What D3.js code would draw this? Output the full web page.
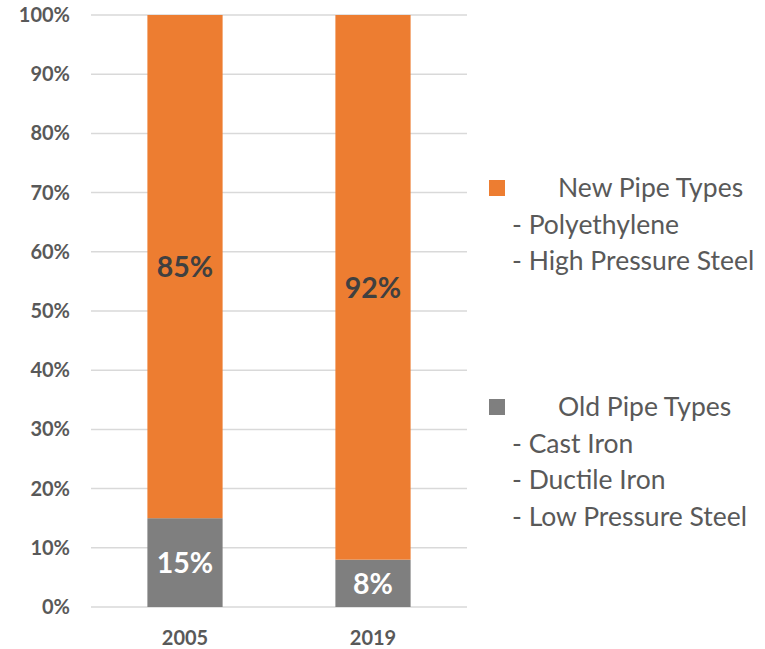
<!DOCTYPE html>
<html>
<head>
<meta charset="utf-8">
<script src="https://cdn.jsdelivr.net/npm/d3@7"></script>
<style>
  body { margin: 0; background: #fff; }
  svg text { font-family: Lato, "Open Sans", sans-serif; }
</style>
</head>
<body>
<div id="chart"></div>
<script>
// chart data
const years = ["2005", "2019"];
const oldShare = [15, 8];
const newShare = [85, 92];
const yTicks = [0, 10, 20, 30, 40, 50, 60, 70, 80, 90, 100];
const legendNew = ["New Pipe Types", "- Polyethylene", "- High Pressure Steel"];
const legendOld = ["Old Pipe Types", "- Cast Iron", "- Ductile Iron", "- Low Pressure Steel"];

const width = 765, height = 649;
const margin = {top: 15, left: 91, right: 298, bottom: 42};
const orange = "#ED7D31", gray = "#7F7F7F", textGray = "#595959";

const svg = d3.select("#chart")
    .append("svg")
    .attr("width", width)
    .attr("height", height);

const x = d3.scaleBand()
    .domain(years)
    .range([margin.left, width - margin.right])
    .padding(0);

const y = d3.scaleLinear()
    .domain([0, 100])
    .range([height - margin.bottom, margin.top]);

const barW = x.bandwidth() * 0.4;

// gridlines
svg.append("g")
    .selectAll("line")
    .data(yTicks)
    .join("line")
    .attr("x1", margin.left)
    .attr("x2", width - margin.right)
    .attr("y1", d => y(d))
    .attr("y2", d => y(d))
    .attr("stroke", "#D9D9D9")
    .attr("stroke-width", 1.5);

// y axis labels
const yAxis = svg.append("g")
    .attr("transform", `translate(${margin.left},0)`)
    .call(d3.axisLeft(y).tickValues(yTicks).tickFormat(d => d + "%").tickSize(0).tickPadding(21));
yAxis.select(".domain").remove();
yAxis.selectAll("text")
    .attr("fill", textGray)
    .attr("font-size", "20px")
    .attr("font-weight", "bold")
    .style("font-family", "Lato, sans-serif");

// x axis labels
const xAxis = svg.append("g")
    .attr("transform", `translate(0,${height - margin.bottom})`)
    .call(d3.axisBottom(x).tickSize(0).tickPadding(24));
xAxis.select(".domain").remove();
xAxis.selectAll("text")
    .attr("fill", textGray)
    .attr("font-size", "20px")
    .attr("font-weight", "bold")
    .style("font-family", "Lato, sans-serif");

const rows = years.map((yr, i) => ({year: yr, old: oldShare[i], fresh: newShare[i]}));

// old pipe segment
svg.append("g")
    .selectAll("rect")
    .data(rows)
    .join("rect")
    .attr("x", d => x(d.year) + (x.bandwidth() - barW) / 2)
    .attr("width", barW)
    .attr("y", d => y(d.old))
    .attr("height", d => y(0) - y(d.old))
    .attr("fill", gray);

// new pipe segment
svg.append("g")
    .selectAll("rect")
    .data(rows)
    .join("rect")
    .attr("x", d => x(d.year) + (x.bandwidth() - barW) / 2)
    .attr("width", barW)
    .attr("y", d => y(d.old + d.fresh))
    .attr("height", d => y(d.old) - y(d.old + d.fresh))
    .attr("fill", orange);

// value labels
svg.append("g")
    .selectAll("text")
    .data(rows)
    .join("text")
    .attr("x", d => x(d.year) + x.bandwidth() / 2)
    .attr("y", d => y(d.old / 2))
    .attr("dy", "0.36em")
    .attr("text-anchor", "middle")
    .attr("font-size", "28.5px")
    .attr("font-weight", "bold")
    .attr("fill", "#fff")
    .text(d => d.old + "%");

svg.append("g")
    .selectAll("text")
    .data(rows)
    .join("text")
    .attr("x", d => x(d.year) + x.bandwidth() / 2)
    .attr("y", d => y(d.old + d.fresh / 2))
    .attr("dy", "0.36em")
    .attr("text-anchor", "middle")
    .attr("font-size", "28.5px")
    .attr("font-weight", "bold")
    .attr("fill", "#404040")
    .text(d => d.fresh + "%");

// legend
function drawLegend(items, color, top) {
    const g = svg.append("g").attr("transform", `translate(489,${top})`);
    g.append("rect")
        .attr("x", 0)
        .attr("y", -8)
        .attr("width", 16)
        .attr("height", 16)
        .attr("fill", color);
    g.selectAll("text")
        .data(items)
        .join("text")
        .attr("x", (d, i) => i === 0 ? 69 : 23)
        .attr("y", (d, i) => i * 36.5)
        .attr("dy", "0.35em")
        .attr("font-size", "26.5px")
        .attr("fill", textGray)
        .text(d => d);
}
drawLegend(legendNew, orange, 188);
drawLegend(legendOld, gray, 407);
</script>
</body>
</html>
